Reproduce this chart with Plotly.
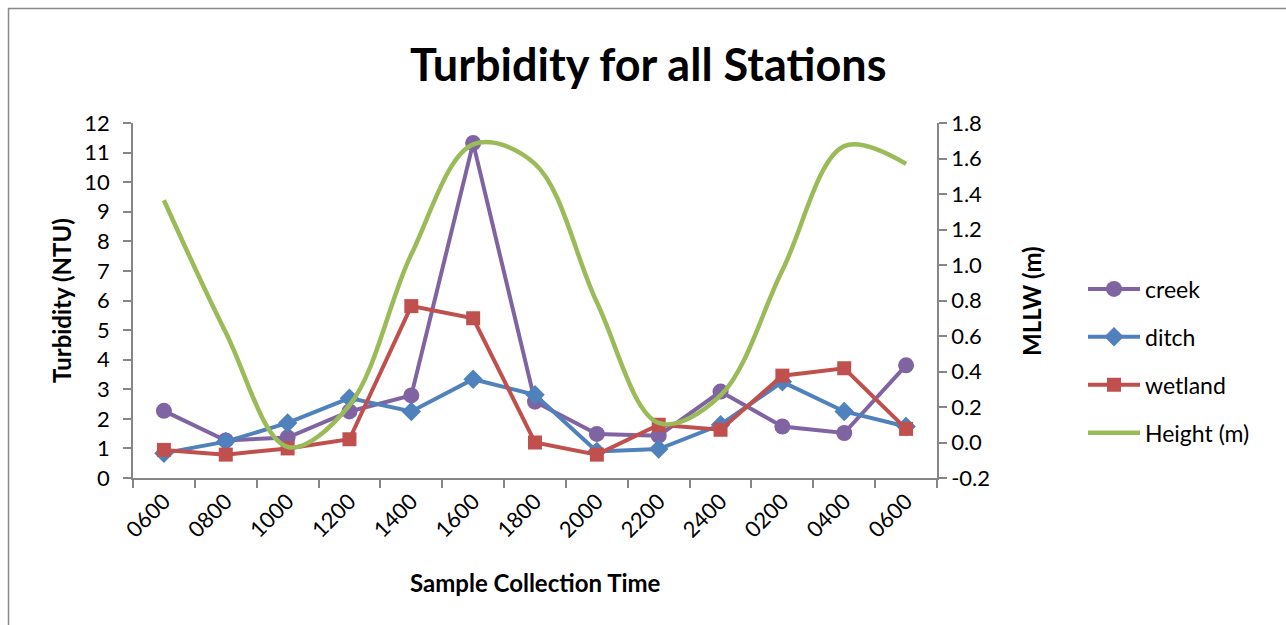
import plotly.graph_objects as go

times = ["0600", "0800", "1000", "1200", "1400", "1600", "1800",
         "2000", "2200", "2400", "0200", "0400", "0600"]
creek = [2.27, 1.27, 1.37, 2.25, 2.79, 11.32, 2.58, 1.49, 1.43, 2.92, 1.74, 1.52, 3.81]
ditch = [0.84, 1.23, 1.86, 2.70, 2.25, 3.34, 2.81, 0.90, 0.98, 1.80, 3.25, 2.25, 1.74]
wetland = [0.95, 0.79, 1.00, 1.31, 5.81, 5.40, 1.20, 0.79, 1.80, 1.63, 3.46, 3.71, 1.66]
height = [1.365, 0.62, -0.025, 0.21, 1.06, 1.68, 1.57, 0.79, 0.11, 0.265, 0.97, 1.67, 1.57]
y2_labels = ["-0.2", "0.0", "0.2", "0.4", "0.6", "0.8", "1.0", "1.2", "1.4", "1.6", "1.8"]

x = list(range(len(times)))
FONT = "Lato"
AXIS = "#868686"
TICK = 22
TITLE = 24

fig = go.Figure()
fig.add_trace(go.Scatter(x=x, y=creek, name="creek", mode="lines+markers",
                         line=dict(color="#8064A2", width=4),
                         marker=dict(symbol="circle", size=16, color="#8064A2"),
                         legendgroup="a", legendrank=1))
fig.add_trace(go.Scatter(x=x, y=ditch, name="ditch", mode="lines+markers",
                         line=dict(color="#4F81BD", width=4),
                         marker=dict(symbol="diamond", size=15, color="#4F81BD"),
                         legendgroup="b", legendrank=2))
fig.add_trace(go.Scatter(x=x, y=wetland, name="wetland", mode="lines+markers",
                         line=dict(color="#C0504D", width=4),
                         marker=dict(symbol="square", size=14, color="#C0504D"),
                         legendgroup="c", legendrank=3))
fig.add_trace(go.Scatter(x=x, y=height, name="Height (m)", mode="lines",
                         line=dict(color="#9BBB59", width=4.5, shape="spline", smoothing=1),
                         yaxis="y2", legendgroup="d", legendrank=4))

W, H = 1286, 625
L, R, T, B = 133, 937, 123, 478


def px_x(p):
    return (p - L) / (R - L)


def px_y(p):
    return (B - p) / (B - T)


fig.update_layout(
    width=W, height=H,
    margin=dict(l=L, r=W - R, t=T, b=H - B),
    paper_bgcolor="white", plot_bgcolor="white",
    font=dict(family=FONT, size=TICK, color="black"),
    showlegend=True,
    legend=dict(x=px_x(1083), y=px_y(361), xanchor="left", yanchor="middle",
                font=dict(family=FONT, size=23), tracegroupgap=15, itemwidth=52,
                bgcolor="rgba(0,0,0,0)"),
    xaxis=dict(range=[-0.5, 12.5], tickvals=x, ticktext=times, tickangle=-45,
               ticks="", showgrid=False, zeroline=False,
               showline=True, linecolor=AXIS, linewidth=1.5,
               tickfont=dict(family=FONT, size=TICK),
               minor=dict(tickmode="linear", tick0=-0.5, dtick=1, ticks="outside",
                          ticklen=8, tickcolor=AXIS, tickwidth=1.5, showgrid=False)),
    yaxis=dict(range=[0, 12], dtick=1, tick0=0, ticks="outside", ticklen=8,
               tickcolor=AXIS, tickwidth=1.5, showgrid=False, zeroline=False,
               showline=True, linecolor=AXIS, linewidth=1.5,
               ticklabelstandoff=9,
               tickfont=dict(family=FONT, size=TICK)),
    yaxis2=dict(range=[-0.2, 1.8], tickvals=[float(s) for s in y2_labels],
                ticktext=y2_labels,
                overlaying="y", side="right", ticks="outside", ticklen=8,
                tickcolor=AXIS, tickwidth=1.5, showgrid=False, zeroline=False,
                showline=True, linecolor=AXIS, linewidth=1.5,
                tickfont=dict(family=FONT, size=TICK)),
)

ann = dict(xref="paper", yref="paper", showarrow=False, xanchor="center", yanchor="middle")
fig.add_annotation(text="<b>Turbidity for all Stations</b>", x=px_x(648), y=px_y(64),
                   font=dict(family=FONT, size=45, color="black"), **ann)
fig.add_annotation(text="<b>Turbidity (NTU)</b>", x=px_x(61), y=px_y(301), textangle=-90,
                   font=dict(family=FONT, size=TITLE, color="black"), **ann)
fig.add_annotation(text="<b>MLLW (m)</b>", x=px_x(1031), y=px_y(301), textangle=-90,
                   font=dict(family=FONT, size=TITLE, color="black"), **ann)
fig.add_annotation(text="<b>Sample Collection Time</b>", x=px_x(535), y=px_y(582),
                   font=dict(family=FONT, size=TITLE, color="black"), **ann)

fig.add_shape(type="path", xref="paper", yref="paper",
              path=f"M {px_x(8.5)} {px_y(640)} L {px_x(8.5)} {px_y(8.5)} L {px_x(1300)} {px_y(8.5)}",
              line=dict(color="#898989", width=1.5))

fig.write_html("out.html")
